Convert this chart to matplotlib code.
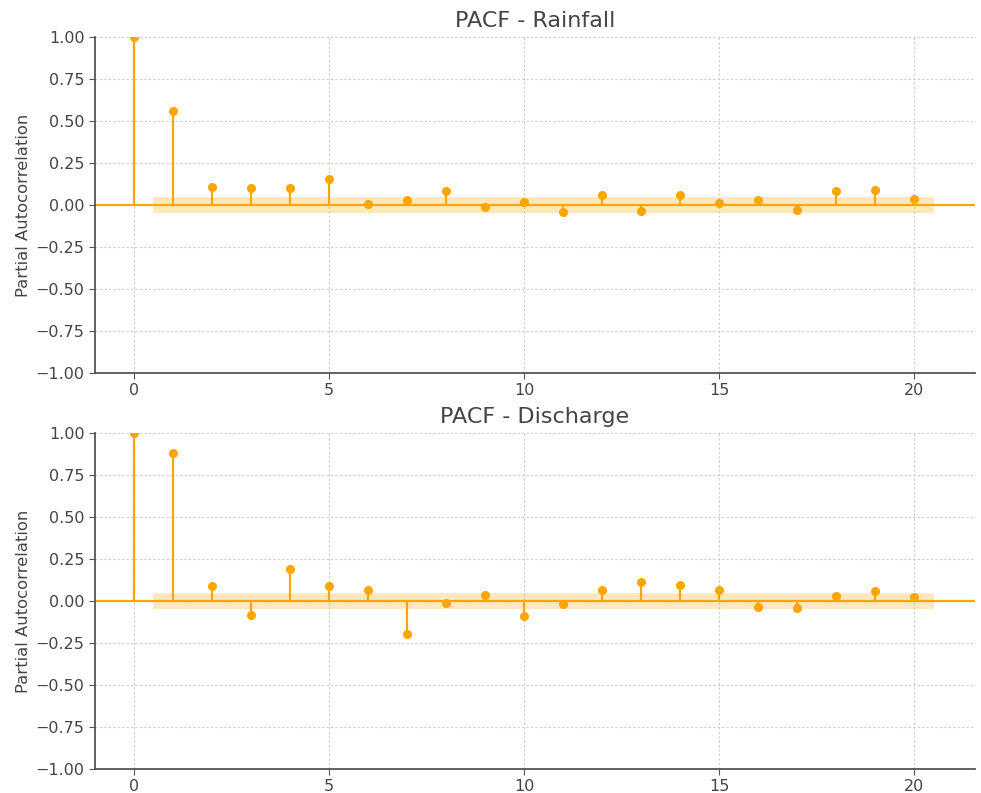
import numpy as np
import matplotlib
matplotlib.use("Agg")
import matplotlib.pyplot as plt

# PACF values
lags = np.arange(21)
pacf_rain = [1.00, 0.56, 0.11, 0.10, 0.10, 0.156, 0.008, 0.03, 0.082, -0.01, 0.016,
             -0.042, 0.06, -0.034, 0.06, 0.014, 0.032, -0.03, 0.082, 0.09, 0.036]
pacf_dis = [1.00, 0.88, 0.092, -0.084, 0.192, 0.088, 0.068, -0.194, -0.012, 0.038, -0.09,
            -0.018, 0.066, 0.11, 0.094, 0.068, -0.036, -0.042, 0.03, 0.058, 0.022]
conf = 0.05
titles = ["PACF - Rainfall", "PACF - Discharge"]

col = "#FFA500"
txt = "#444444"

fig = plt.figure(figsize=(9.81, 7.93), dpi=100)
ax1 = fig.add_axes([0.0968, 0.5296, 0.897, 0.4237])
ax2 = fig.add_axes([0.0968, 0.0303, 0.897, 0.4237])

for ax, vals, title in zip([ax1, ax2], [pacf_rain, pacf_dis], titles):
    ax.vlines(lags, 0, vals, color=col, lw=1.6, zorder=3)
    ax.plot(lags, vals, "o", color=col, ms=5.5, zorder=4)
    ax.axhline(0, color=col, lw=1.6, zorder=2)
    band_x = np.arange(0.5, 21, 1.0)
    ax.fill_between(band_x, -conf, conf, color=col, alpha=0.25, lw=0, zorder=1)
    ax.set_xlim(-1.0, 21.55)
    ax.set_ylim(-1.0, 1.0)
    ax.set_yticks(np.arange(-1.0, 1.01, 0.25))
    ax.set_xticks([0, 5, 10, 15, 20])
    ax.set_yticklabels(["{:.2f}".format(v).replace("-", "\u2212") for v in np.arange(-1.0, 1.01, 0.25)])
    ax.grid(True, ls=(0, (2, 2)), color="#cccccc", lw=0.8)
    ax.set_axisbelow(True)
    for s in ["top", "right"]:
        ax.spines[s].set_visible(False)
    for s in ["left", "bottom"]:
        ax.spines[s].set_color("#555555")
        ax.spines[s].set_linewidth(1.3)
    ax.tick_params(colors="#555555", labelcolor=txt, labelsize=11.5, length=4)
    ax.set_title(title, fontsize=16, color=txt, pad=7)
    ax.set_ylabel("Partial Autocorrelation", fontsize=11.8, color=txt, labelpad=3)

fig.savefig("out.png", dpi=100)
